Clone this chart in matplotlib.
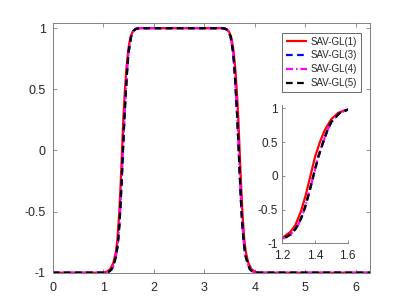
import numpy as np
import matplotlib
matplotlib.use("Agg")
import matplotlib.pyplot as plt

plt.rcParams['font.family'] = ['Liberation Sans', 'DejaVu Sans']

# ---- data ----
# SAV-GL(1): red solid
x_gl1 = [0.0, 1.00, 1.08, 1.14, 1.20, 1.25, 1.28, 1.315, 1.345, 1.372, 1.40, 1.43,
         1.46, 1.50, 1.54, 1.58, 1.63, 1.70,
         3.37, 3.44, 3.49, 3.53, 3.57, 3.61, 3.64, 3.67, 3.698, 3.725, 3.755, 3.79,
         3.82, 3.87, 3.93, 3.99, 4.07, 6.2832]
y_gl1 = [-1.0, -1.0, -0.99, -0.97, -0.92, -0.83, -0.73, -0.52, -0.27, 0.00, 0.28, 0.50,
         0.68, 0.84, 0.93, 0.97, 0.99, 1.0,
         1.0, 0.99, 0.97, 0.93, 0.84, 0.68, 0.50, 0.28, 0.00, -0.27, -0.52, -0.73,
         -0.83, -0.92, -0.97, -0.99, -1.0, -1.0]

# SAV-GL(3), SAV-GL(4), SAV-GL(5): practically coincident
x_gl345 = [0.0, 1.05, 1.12, 1.17, 1.20, 1.25, 1.28, 1.30, 1.32, 1.34, 1.365, 1.39,
           1.42, 1.45, 1.475, 1.50, 1.55, 1.60, 1.65, 1.72,
           3.35, 3.42, 3.47, 3.52, 3.57, 3.595, 3.62, 3.65, 3.68, 3.705, 3.73, 3.75,
           3.77, 3.79, 3.82, 3.87, 3.90, 3.95, 4.02, 6.2832]
y_gl345 = [-1.0, -1.0, -0.99, -0.97, -0.94, -0.87, -0.79, -0.71, -0.60, -0.46, -0.24, 0.00,
           0.28, 0.50, 0.67, 0.80, 0.93, 0.98, 0.995, 1.0,
           1.0, 0.995, 0.98, 0.93, 0.80, 0.67, 0.50, 0.28, 0.00, -0.24, -0.46, -0.60,
           -0.71, -0.79, -0.87, -0.94, -0.97, -0.99, -1.0, -1.0]

labels = ['SAV-GL(1)', 'SAV-GL(3)', 'SAV-GL(4)', 'SAV-GL(5)']
xticks_main = [0, 1, 2, 3, 4, 5, 6]
yticks_main = [-1, -0.5, 0, 0.5, 1]
ytick_labels = ['-1', '-0.5', '0', '0.5', '1']
xticks_inset = [1.2, 1.4, 1.6]

# ---- figure ----
W, H = 409, 307
fig = plt.figure(figsize=(W / 100, H / 100), dpi=100)
ax = fig.add_axes([52.7 / W, 1 - 272.7 / H, (370.3 - 52.7) / W, (272.7 - 23.3) / H])

gray = '#262626'
axcol = '#808080'
lw = 1.6


def draw(a):
    a.plot(x_gl1, y_gl1, color='red', lw=lw, solid_capstyle='butt', label=labels[0])
    a.plot(x_gl345, y_gl345, color='blue', lw=lw, linestyle='--', dashes=(3.0, 2.0),
           label=labels[1])
    a.plot(x_gl345, y_gl345, color='magenta', lw=lw, linestyle='-.',
           dashes=(3.2, 1.3, 0.7, 1.3), label=labels[2])
    a.plot(x_gl345, y_gl345, color='black', lw=lw, linestyle='--', dashes=(3.0, 2.0),
           label=labels[3])


draw(ax)
ax.set_xlim(0, 2 * np.pi)
ax.set_ylim(-1, 1.04)
ax.set_xticks(xticks_main)
ax.set_yticks(yticks_main)
ax.set_yticklabels(ytick_labels)
ax.tick_params(direction='in', length=3, width=0.6, colors=axcol, labelcolor=gray,
               labelsize=9, top=True, right=True)
ax.tick_params(axis='x', pad=7)
ax.tick_params(axis='y', pad=5)
for s in ax.spines.values():
    s.set_color(axcol)
    s.set_linewidth(0.7)

leg = ax.legend(loc='upper right', bbox_to_anchor=(360.7 / W, 1 - 32.7 / H),
                bbox_transform=fig.transFigure, fontsize=7, frameon=True, fancybox=False,
                edgecolor=gray, handlelength=2.1, handletextpad=0.4, borderpad=0.4,
                labelspacing=0.4, borderaxespad=0)
leg.get_frame().set_linewidth(0.6)
for t in leg.get_texts():
    t.set_color(gray)

# ---- inset ----
ins = fig.add_axes([282.3 / W, 1 - 243.3 / H, (347.7 - 282.3) / W, (243.3 - 105) / H])
draw(ins)
ins.set_xlim(1.2, 1.6)
ins.set_ylim(-1, 1.05)
ins.set_xticks(xticks_inset)
ins.set_yticks(yticks_main)
ins.set_yticklabels(ytick_labels)
ins.spines['top'].set_visible(False)
ins.spines['right'].set_visible(False)
for s in ['left', 'bottom']:
    ins.spines[s].set_color(axcol)
    ins.spines[s].set_linewidth(0.7)
ins.tick_params(direction='in', length=2, width=0.6, colors=axcol, labelcolor=gray,
                labelsize=8.5)
ins.tick_params(axis='x', pad=5)
ins.tick_params(axis='y', pad=3)
ins.patch.set_alpha(0)

fig.savefig('out.png', dpi=100)
